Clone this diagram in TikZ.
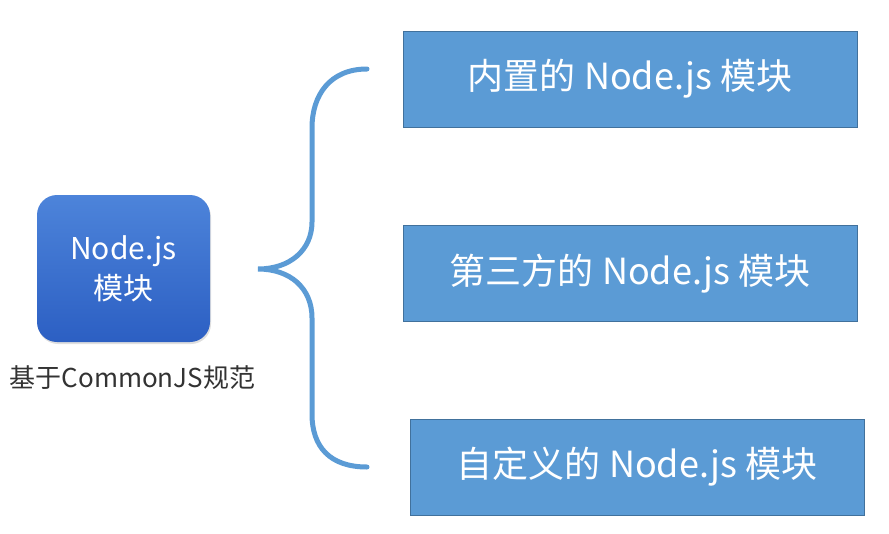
\documentclass[tikz,border=0pt]{standalone}
\usepackage{fontspec}
\setmainfont{Noto Sans CJK SC}
\usetikzlibrary{positioning,shadows}
\definecolor{boxblue}{HTML}{5B9BD5}
\definecolor{boxline}{HTML}{41719C}
\definecolor{topblue}{HTML}{4D84DA}
\definecolor{lowblue}{HTML}{2C5FC3}
\definecolor{labelgray}{HTML}{333333}

\begin{document}
\begin{tikzpicture}[x=1pt, y=-1pt, font=\fontsize{36}{42}\selectfont]
    \tikzset{kind/.style={draw=boxline, line width=1pt, fill=boxblue, text=white,
                          minimum width=454pt, minimum height=96pt, inner sep=0pt},
             core/.style={rounded corners=20pt, top color=topblue, bottom color=lowblue,
                          draw=none, text=white, minimum width=173pt, minimum height=147pt,
                          align=center, font=\fontsize{30}{40}\selectfont,
                          drop shadow={opacity=0.25, shadow xshift=1pt, shadow yshift=-2pt}},
             brace/.style={draw=boxblue, line width=5pt, line cap=round}}
    \useasboundingbox (0,0) rectangle (889,533);
    \node[core] (mod) at (123.5,268.5) {Node.js\\模块};
    \node[below=20pt of mod, xshift=9pt, text=labelgray, font=\fontsize{26}{30}\selectfont] (spec) {基于CommonJS规范};
    \node[kind] (builtin) at (630,79)   {内置的 Node.js 模块};
    \node[kind] (third)   at (630,273.5) {第三方的 Node.js 模块};
    \node[kind] (custom)  at (637,467)  {自定义的 Node.js 模块};
    % the brace
    \coordinate (tip) at (258,269);
    \draw[brace] (367,69) .. controls (330,69) and (312,95) .. (312,128)
      -- (312,222) .. controls (312,250) and (290,269) .. (tip)
      .. controls (290,269) and (312,288) .. (312,318)
      -- (312,414) .. controls (312,447) and (330,467) .. (367,467);
\end{tikzpicture}
\end{document}
